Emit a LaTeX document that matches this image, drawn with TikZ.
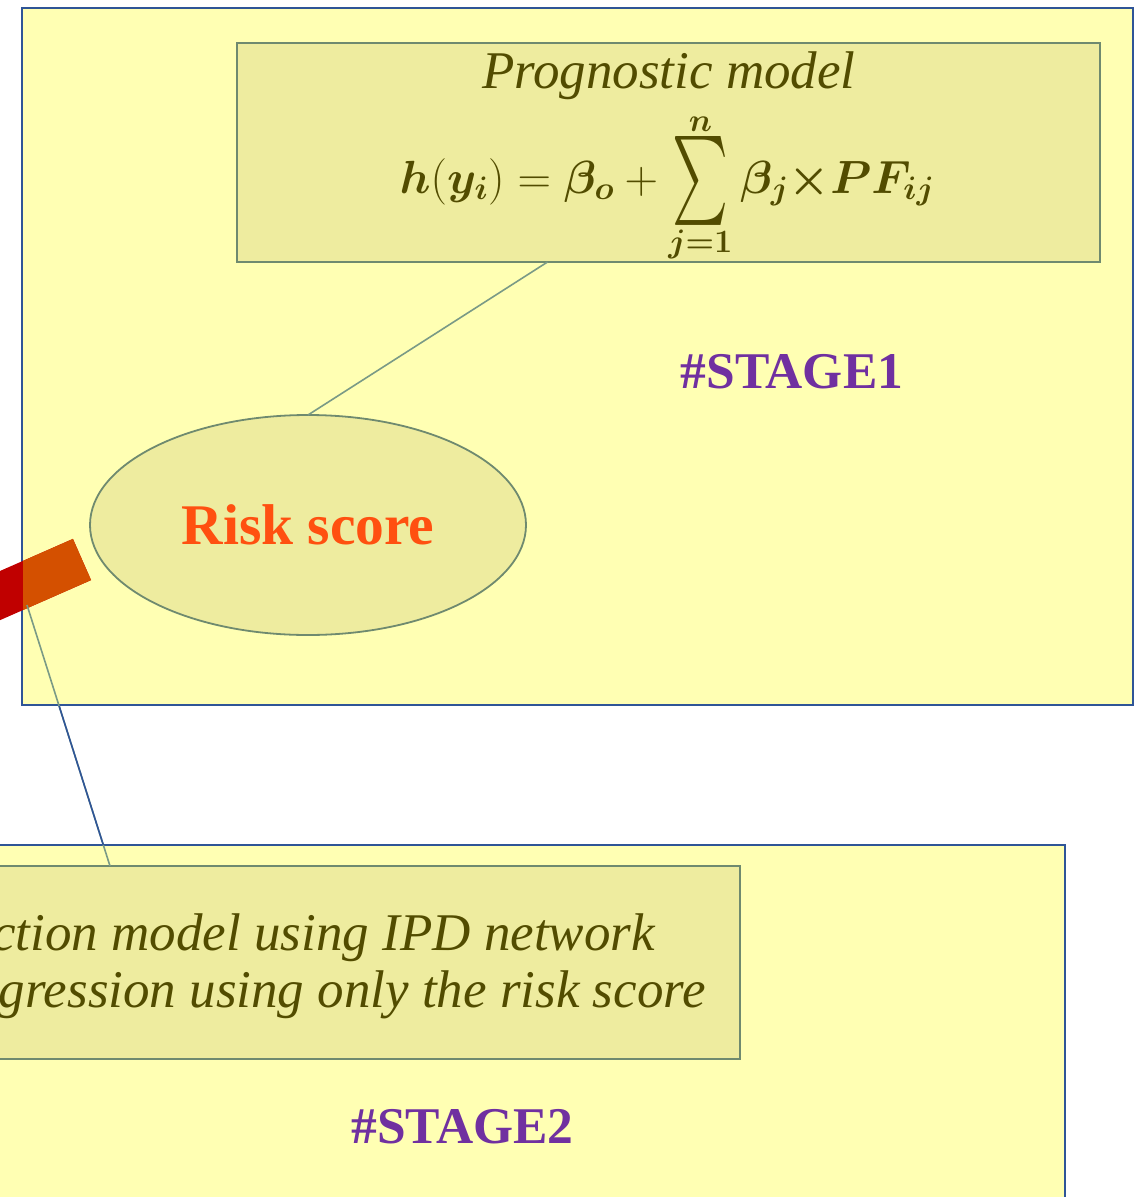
\RequirePackage{fix-cm}
\documentclass[tikz,border=0pt]{standalone}
\usepackage{graphicx}
\usepackage{amsmath,bm}
\usepackage{fontspec}
\setmainfont{Liberation Serif}
\usetikzlibrary{shapes.geometric}
\definecolor{stagefill}{HTML}{FFFFB3}
\definecolor{innerfill}{HTML}{EEEC9F}
\definecolor{stageline}{HTML}{2F5597}
\definecolor{innerline}{HTML}{6F8A6F}
\definecolor{connline}{HTML}{7A9A86}
\definecolor{olive}{HTML}{524C00}
\definecolor{riskorange}{HTML}{FF5010}
\definecolor{stagepurple}{HTML}{7030A0}
\definecolor{barred}{HTML}{C00000}
\definecolor{barorange}{HTML}{D45000}
\newcommand{\bigsumop}{\mathop{\vcenter{\hbox{\resizebox{56pt}{86pt}{$\sum$}}}}\limits}
\tikzset{
  stagebox/.style={draw=stageline, fill=stagefill, line width=2pt, inner sep=0pt, outer sep=0pt},
  innerbox/.style={draw=innerline, fill=innerfill, line width=2pt, inner sep=0pt, outer sep=0pt},
  riskellipse/.style={ellipse, draw=innerline, fill=innerfill, line width=1.8pt, inner sep=0pt, outer sep=0pt,
    text=riskorange, font=\fontsize{57.5}{64}\selectfont\bfseries},
  itext/.style={text=olive, inner sep=0pt, font=\fontsize{53}{60}\selectfont\itshape},
  stagelabel/.style={text=stagepurple, inner sep=0pt, font=\fontsize{51.5}{60}\selectfont\bfseries},
  mathtext/.style={text=olive, inner sep=0pt, font=\fontsize{46.5}{52}\selectfont},
  barstroke/.style={line width=45pt},
  linkline/.style={draw=connline, line width=1.6pt},
  linkblue/.style={draw=stageline, line width=1.6pt}
}
\begin{document}
\begin{tikzpicture}[x=1pt,y=-1pt]
\useasboundingbox (0,0) rectangle (1135,1197);
\clip (0,0) rectangle (1135,1197);
% stage boxes
\node[stagebox, minimum width=1111pt, minimum height=697pt, anchor=north west] (stage1) at (22,8) {};
\node[stagebox, minimum width=1115pt, minimum height=420pt, anchor=north west] (stage2) at (-50,845) {};
% bar
\coordinate (bartail) at (-101,640);
\coordinate (barend) at (82,559.5);
\draw[barstroke, barred] (bartail) -- (barend);
\begin{scope}
  \clip (23,9) rectangle (1132,704);
  \draw[barstroke, barorange] (bartail) -- (barend);
\end{scope}
% inner boxes
\node[innerbox, minimum width=863pt, minimum height=219pt, anchor=north west] (prog) at (237,43) {};
\node[innerbox, minimum width=790pt, minimum height=193pt, anchor=north west] (inner2) at (-50,866) {};
\node[riskellipse, minimum width=436pt, minimum height=220pt] (risk) at (308,525) {Risk score};
% connectors
\draw[linkline] ([xshift=-121pt]prog.south) -- (risk.north);
\coordinate (barfoot) at (27,605);
\draw[linkline] (barfoot) -- ([xshift=160pt]inner2.north west);
\begin{scope}
  \clip (0,706) rectangle (1135,844);
  \draw[linkblue] (barfoot) -- ([xshift=160pt]inner2.north west);
\end{scope}
% texts
\node[itext, anchor=base] (progtitle) at (669,88) {Prognostic model};
\node[mathtext, anchor=base] (formula) at (667,193)
  {$\displaystyle \bm{h}(\bm{y_i})=\bm{\beta_o}+\bigsumop_{\bm{j=1}}^{\bm{n}}\bm{\beta_j}{\bm{\times}}\bm{PF_{ij}}$};
\node[stagelabel, anchor=base] (s1) at (792,388) {\#STAGE1};
\node[stagelabel, anchor=base] (s2) at (462.5,1143) {\#STAGE2};
\node[itext, anchor=base east] (l1) at (655,950) {ction model using IPD network};
\node[itext, anchor=base east] (l2) at (706,1007) {gression using only the risk score};
\end{tikzpicture}
\end{document}
